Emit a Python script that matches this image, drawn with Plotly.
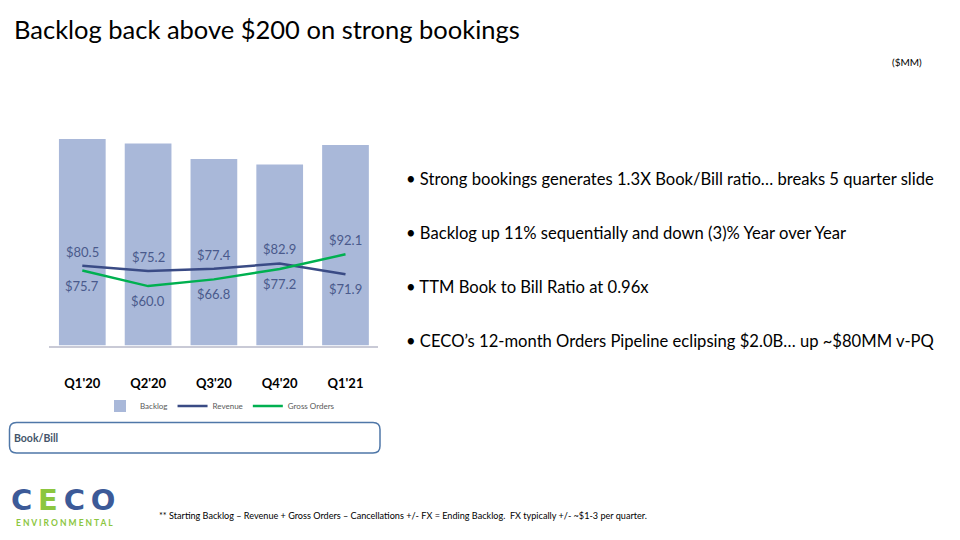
import plotly.graph_objects as go

# --- data ($MM) ---
quarters = ["Q1'20", "Q2'20", "Q3'20", "Q4'20", "Q1'21"]
backlog = [208.6, 204.0, 188.4, 182.8, 202.5]
revenue = [80.5, 75.2, 77.4, 82.9, 71.9]
gross_orders = [75.7, 60.0, 66.8, 77.2, 92.1]
rev_above = [True, True, True, True, False]
ord_above = [False, False, False, False, True]

bullets = [
    "Strong bookings generates 1.3X Book/Bill ratio… breaks 5 quarter slide",
    "Backlog up 11% sequentially and down (3)% Year over Year",
    "TTM Book to Bill Ratio at 0.96x",
    "CECO’s 12-month Orders Pipeline eclipsing $2.0B… up ~$80MM v-PQ",
]

W, H = 960, 540
FONT = "Lato, 'Open Sans', sans-serif"
STYLE = {
    "bar": "#A9B8D9", "rev": "#3A4B85", "ord": "#00B050",
    "lbl": "#4A5A8C", "axis": "#C9CAD6", "box": "#4F77A8",
    "navy": "#3C5A98", "green": "#8CC63F",
}


def px(x):
    return x / W


def py(y):
    return 1 - y / H


fig = go.Figure()
fig.add_trace(go.Bar(x=quarters, y=backlog, name="Backlog",
                     marker=dict(color=STYLE["bar"], line_width=0)))
fig.add_trace(go.Scatter(x=quarters, y=revenue, name="Revenue", mode="lines",
                         line=dict(color=STYLE["rev"], width=2.5)))
fig.add_trace(go.Scatter(x=quarters, y=gross_orders, name="Gross Orders", mode="lines",
                         line=dict(color=STYLE["ord"], width=2.5)))

# value labels for the two lines
for vals, above in [(revenue, rev_above), (gross_orders, ord_above)]:
    for q, v, a in zip(quarters, vals, above):
        fig.add_annotation(x=q, y=v, text=f"${v:.1f}", showarrow=False,
                           yshift=14 if a else -15,
                           font=dict(size=13, color=STYLE["lbl"], family=FONT))

# title / unit
fig.add_annotation(x=px(12), y=py(29), xref="paper", yref="paper", xanchor="left", yanchor="middle",
                   text="Backlog back above $200 on strong bookings", showarrow=False,
                   font=dict(size=25.5, color="#000000", family=FONT))
fig.add_annotation(x=px(924), y=py(62), xref="paper", yref="paper", xanchor="right", yanchor="middle",
                   text="($MM)", showarrow=False, font=dict(size=10, color="#000000", family=FONT))

# bullets
for i, b in enumerate(bullets):
    fig.add_annotation(x=px(404), y=py(179 + i * 54), xref="paper", yref="paper",
                       xanchor="left", yanchor="middle", text="• " + b, showarrow=False,
                       font=dict(size=16.6, color="#000000", family=FONT))

# Book/Bill rounded box
x0, x1, y0, y1, r = 9.5, 380, 422.5, 453, 7
rx, ry = r / W, r / H
p = (f"M {px(x0)+rx},{py(y0)} L {px(x1)-rx},{py(y0)} Q {px(x1)},{py(y0)} {px(x1)},{py(y0)-ry} "
     f"L {px(x1)},{py(y1)+ry} Q {px(x1)},{py(y1)} {px(x1)-rx},{py(y1)} "
     f"L {px(x0)+rx},{py(y1)} Q {px(x0)},{py(y1)} {px(x0)},{py(y1)+ry} "
     f"L {px(x0)},{py(y0)-ry} Q {px(x0)},{py(y0)} {px(x0)+rx},{py(y0)} Z")
fig.add_shape(type="path", path=p, xref="paper", yref="paper",
              line=dict(color=STYLE["box"], width=1.5), fillcolor="rgba(0,0,0,0)")
fig.add_annotation(x=px(12), y=py(438), xref="paper", yref="paper", xanchor="left", yanchor="middle",
                   text="<b>Book/Bill</b>", showarrow=False,
                   font=dict(size=10.5, color="#44546A", family=FONT))

# logo
ts = "\u2009"
fig.add_annotation(x=px(9), y=py(500), xref="paper", yref="paper", xanchor="left", yanchor="middle",
                   text=(f"<b><span style='color:{STYLE['navy']}'>C</span>{ts}"
                         f"<span style='color:{STYLE['green']}'>E</span>{ts}"
                         f"<span style='color:{STYLE['navy']}'>C{ts}O</span></b>"),
                   showarrow=False, font=dict(size=29, family="'DejaVu Sans', sans-serif"))
fig.add_annotation(x=px(14), y=py(522.5), xref="paper", yref="paper", xanchor="left", yanchor="middle",
                   text="<b>" + " ".join("ENVIRONMENTAL") + "</b>", showarrow=False,
                   font=dict(size=8.5, color=STYLE["green"], family=FONT))

# footnote
fig.add_annotation(x=px(157), y=py(515), xref="paper", yref="paper", xanchor="left", yanchor="middle",
                   text="** Starting Backlog – Revenue + Gross Orders – Cancellations +/- FX = Ending Backlog.  "
                        "FX typically +/- ~$1-3 per quarter.",
                   showarrow=False, font=dict(size=9.1, color="#000000", family=FONT))

fig.update_layout(
    width=W, height=H, margin=dict(l=0, r=0, t=0, b=0),
    paper_bgcolor="white", plot_bgcolor="white",
    bargap=0.29, font=dict(family=FONT),
    xaxis=dict(domain=[px(49.4), px(378.4)], showline=True, linecolor=STYLE["axis"], linewidth=2,
               ticks="", ticklabelstandoff=25,
               tickfont=dict(size=13, color="#000000", family=FONT, weight="bold"), showgrid=False),
    yaxis=dict(domain=[py(345.5), py(127.7)], range=[0, 220], visible=False, showgrid=False),
    showlegend=True,
    legend=dict(orientation="h", x=px(100), y=py(406), xanchor="left", yanchor="middle",
                font=dict(size=8, color="#595959", family=FONT), bgcolor="rgba(0,0,0,0)",
                traceorder="normal"),
)

fig.write_html("out.html", config={"displayModeBar": False},
               post_script="document.body.style.margin='0';")
